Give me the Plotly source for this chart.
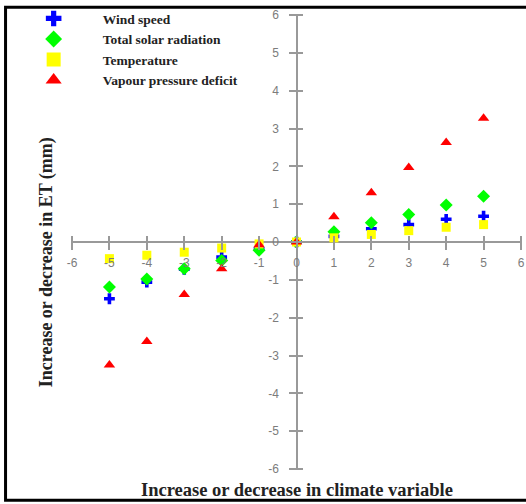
import plotly.graph_objects as go

change = [-5, -4, -3, -2, -1, 0, 1, 2, 3, 4, 5]
wind_speed = [-1.50, -1.06, -0.72, -0.40, -0.18, 0.0, 0.15, 0.35, 0.46, 0.60, 0.68]
solar_rad = [-1.19, -0.98, -0.71, -0.49, -0.22, 0.0, 0.27, 0.51, 0.73, 0.98, 1.21]
temperature = [-0.44, -0.35, -0.27, -0.16, -0.05, 0.0, 0.11, 0.20, 0.30, 0.39, 0.46]
vpd = [-3.25, -2.63, -1.39, -0.71, -0.07, 0.0, 0.67, 1.30, 1.97, 2.63, 3.27]

tick_vals = [-6, -5, -4, -3, -2, -1, 0, 1, 2, 3, 4, 5, 6]
tick_text = [str(v) for v in tick_vals]

series = [
    ("Wind speed", wind_speed, "cross", "#0000ff", 9, 13),
    ("Total solar radiation", solar_rad, "diamond", "#00ff00", 10, 13),
    ("Temperature", temperature, "square", "#ffff00", 9, 14),
    ("Vapour pressure deficit", vpd, "triangle-up", "#ff0000", 10, 14),
]

fig = go.Figure()
for name, vals, sym, col, sz, lsz in series:
    fig.add_trace(go.Scatter(
        x=change, y=vals, mode="markers", name=name, showlegend=False,
        marker=dict(symbol=sym, color=col, size=sz, line=dict(width=0)),
    ))
# legend entries with the larger legend symbols
for name, vals, sym, col, sz, lsz in series:
    fig.add_trace(go.Scatter(
        x=[None], y=[None], mode="markers", name=name, showlegend=True,
        marker=dict(symbol=sym, color=col, size=lsz, line=dict(width=0)),
    ))

W, H = 526, 504
ML, MR, MT, MB = 72, 1, 15, 35
PW, PH = W - ML - MR, H - MT - MB
HALF = 7  # half length of the crossing tick marks, px

axis_col = "#999999"
tick_font = dict(family="Liberation Sans, Arial", size=12, color="#7c7c7c")

common = dict(range=[-6, 6], tickvals=tick_vals, ticktext=tick_text,
              showgrid=False, showline=False, anchor="free",
              zeroline=True, zerolinecolor=axis_col, zerolinewidth=2,
              tickcolor=axis_col, tickwidth=2, ticklen=2 * HALF, ticks="outside",
              fixedrange=True, ticklabeloverflow="allow", tickfont=tick_font)

fig.update_layout(
    width=W, height=H,
    margin=dict(l=ML, r=MR, t=MT, b=MB),
    paper_bgcolor="white", plot_bgcolor="white",
    xaxis=dict(**common, position=0.5 + HALF / PH, ticklabelstandoff=3),
    yaxis=dict(**common, position=0.5 + HALF / PW, ticklabelstandoff=8),
    showlegend=True,
    legend=dict(
        x=-0.150, y=1.026, xanchor="left", yanchor="top",
        font=dict(family="Liberation Serif, Times New Roman", size=13.5,
                  color="#222222", weight="bold"),
        bgcolor="rgba(0,0,0,0)", itemwidth=88, tracegroupgap=0,
    ),
    annotations=[
        dict(text="<b>Increase or decrease in climate variable</b>",
             x=0.5, y=-0.02, xref="paper", yref="paper", xanchor="center",
             yanchor="top", showarrow=False,
             font=dict(family="Liberation Serif, Times New Roman", size=18.5,
                       color="#222222")),
        dict(text="<b>Increase or decrease in ET (mm)</b>",
             x=-0.055, y=0.456, xref="paper", yref="paper", xanchor="center",
             yanchor="middle", showarrow=False, textangle=-90,
             font=dict(family="Liberation Serif, Times New Roman", size=18,
                       color="#222222")),
    ],
    shapes=[
        dict(type="rect", xref="paper", yref="paper",
             x0=-0.148, x1=1.02, y0=-0.069, y1=1.017,
             line=dict(color="black", width=3), fillcolor="rgba(0,0,0,0)"),
    ],
)

fig.write_html("out.html")
